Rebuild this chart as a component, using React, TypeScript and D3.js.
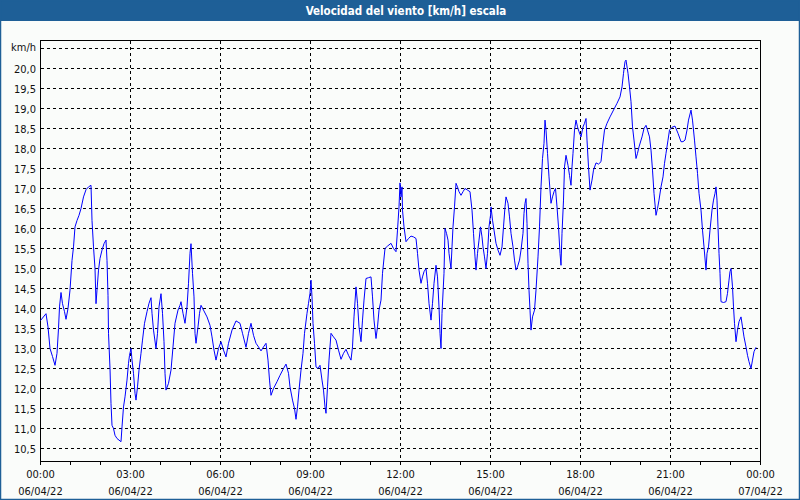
import React, { useEffect, useRef } from 'react';
import * as d3 from 'd3';

// minutes after 06/04/22 00:00
const sampleMinutes = [
  0, 11, 15, 19, 24, 29, 33, 36, 38, 41, 44, 48, 51, 55, 59, 63, 66, 69, 73, 77, 81, 86, 91, 96, 101, 103, 106, 109, 111, 113,
  116, 119, 123, 127, 131, 133, 135, 136, 139, 141, 143, 146, 149, 153, 161, 163, 166, 169, 173, 176, 178, 181, 183, 186, 189, 191,
  194, 197, 201, 204, 208, 213, 217, 221, 223, 226, 231, 234, 237, 241, 244, 247, 249, 251, 256, 261, 265, 269, 275, 279, 281, 285,
  289, 293, 296, 299, 301, 304, 307, 309, 311, 315, 318, 321, 326, 333, 339, 343, 347, 351, 356, 361,
  366, 371, 376, 383, 391, 399, 404, 411, 416, 421, 426, 431, 436, 441, 446, 451, 455, 458, 461, 466, 473, 479, 486, 491, 496, 499,
  504, 508, 511, 514, 517, 521, 525, 528, 533, 536, 539, 541, 543, 545, 548, 551, 555, 559, 563, 566, 569, 571, 574, 577, 581, 586,
  591, 596, 601, 606, 611, 616, 621, 624, 627, 631, 634, 637, 641, 644, 647, 651, 656, 661, 664, 667, 671, 674, 677, 681, 684, 689,
  694, 701, 706, 711, 714, 717, 719,
  721, 723, 724, 727, 731, 736, 741, 746, 751, 754, 757, 761, 764, 767, 771, 774, 777, 781, 784, 787, 791, 794, 797, 799, 801, 803,
  807, 809, 812, 815, 817, 821, 823, 825, 828, 831, 834, 837, 841, 845, 849, 854, 859, 863, 866, 869, 871, 874, 877, 880, 883, 885,
  888, 891, 894, 897, 900, 901, 904, 907, 911, 915, 919, 923, 926, 929, 931, 935, 938, 941, 945, 948, 951, 954, 958, 961, 965, 967,
  969, 971, 973, 975, 977, 979, 981, 984, 988, 991, 995, 998, 1001, 1004, 1007, 1009, 1011, 1014, 1017, 1021, 1024, 1027, 1030, 1033,
  1036, 1039, 1041, 1043, 1046, 1048, 1051, 1055, 1058, 1061, 1063, 1065, 1068, 1071, 1074, 1077,
  1081, 1085, 1088, 1091, 1093, 1096, 1099, 1103, 1106, 1111, 1116, 1121, 1124, 1128, 1133, 1139, 1146, 1153, 1159, 1163, 1166, 1169,
  1171, 1175, 1178, 1181, 1184, 1187, 1191, 1194, 1197, 1203, 1207, 1211, 1214, 1218, 1221, 1224, 1227, 1231, 1234, 1237, 1241, 1245,
  1248, 1251, 1255, 1258, 1263, 1269, 1275, 1281, 1285, 1289, 1293, 1296, 1301, 1304, 1308, 1311, 1314, 1317, 1321, 1324, 1327, 1331,
  1333, 1336, 1339, 1343, 1346, 1349, 1351, 1353, 1355, 1357, 1359, 1361, 1366, 1371, 1374, 1377, 1379, 1381, 1384, 1386, 1388, 1391,
  1394, 1397, 1401, 1404, 1407, 1411, 1414, 1417, 1421, 1424, 1427, 1431,
];

// km/h
const windSpeed = [
  13.7, 13.87, 13.54, 13.0, 12.8, 12.58, 12.88, 13.5, 14.04, 14.4, 14.12, 13.92, 13.73, 14.0, 14.46, 15.2, 15.54, 16.04, 16.2, 16.33, 16.5, 16.79, 16.97, 17.04, 17.08, 16.2, 15.54, 15.0, 14.12, 14.46,
  14.96, 15.25, 15.46, 15.62, 15.71, 15.2, 14.33, 13.38, 12.5, 11.62, 11.08, 11.0, 10.83, 10.75, 10.67, 11.04, 11.54, 11.79, 12.21, 12.63, 12.83, 13.0, 12.71, 12.38, 11.88, 11.71,
  12.04, 12.46, 12.88, 13.21, 13.63, 13.92, 14.13, 14.27, 13.88, 13.46, 13.0, 13.38, 14.04, 14.37, 13.88, 13.17, 12.38, 11.96, 12.13, 12.46, 13.04, 13.63, 13.96, 14.08, 14.17, 13.88,
  13.63, 14.04, 14.63, 15.38, 15.62, 14.88, 14.29, 13.38, 13.13, 13.54, 13.88, 14.08, 13.96, 13.79, 13.58, 13.29, 12.96, 12.71, 13.0, 13.17,
  12.96, 12.79, 13.13, 13.46, 13.69, 13.63, 13.38, 13.03, 13.38, 13.63, 13.33, 13.13, 13.04, 12.94, 13.04, 13.13, 12.71, 12.21, 11.83, 12.0, 12.17, 12.33, 12.5, 12.61, 12.38, 12.04,
  11.71, 11.5, 11.23, 11.54, 11.96, 12.46, 12.88, 13.38, 13.88, 14.13, 14.38, 14.71, 14.29, 13.63, 13.13, 12.54, 12.5, 12.58, 12.21, 11.96, 11.54, 11.38, 12.04, 12.71, 13.38, 13.29,
  13.21, 12.96, 12.73, 12.88, 12.98, 12.83, 12.71, 13.04, 13.79, 14.54, 14.13, 13.54, 13.17, 13.71, 14.21, 14.75, 14.77, 14.79, 14.29, 13.71, 13.25, 13.54, 13.96, 14.21, 14.88, 15.5,
  15.56, 15.63, 15.5, 15.42, 15.96, 16.54, 17.14,
  16.79, 17.04, 16.46, 16.04, 15.67, 15.75, 15.81, 15.79, 15.75, 15.38, 14.96, 14.63, 14.79, 14.92, 15.0, 14.63, 14.13, 13.71, 14.13, 14.63, 15.08, 14.79, 14.04, 13.38, 13.0, 13.88,
  14.88, 16.0, 15.88, 15.71, 15.38, 15.0, 15.54, 16.04, 16.54, 17.13, 17.04, 16.92, 16.83, 16.92, 17.0, 16.96, 16.92, 16.46, 15.88, 15.29, 14.96, 15.38, 15.71, 16.04, 15.79, 15.54,
  15.29, 15.0, 15.38, 16.04, 16.33, 16.54, 16.21, 15.96, 15.63, 15.46, 15.33, 15.54, 16.04, 16.54, 16.79, 16.63, 16.29, 15.88, 15.54, 15.21, 14.96, 15.04, 15.21, 15.46, 15.88, 16.38,
  16.63, 16.75, 16.13, 15.13, 14.46, 13.96, 13.46, 13.79, 13.96, 14.46, 15.29, 16.04, 17.04, 17.75, 18.13, 18.71, 18.46, 17.88, 17.29, 16.63, 16.79, 16.92, 17.0, 16.54,
  16.04, 15.38, 15.08, 15.88, 16.71, 17.54, 17.83, 17.58, 17.33, 17.08, 17.54, 17.88, 18.46, 18.71, 18.54, 18.42,
  18.29, 18.54, 18.63, 18.75, 18.21, 17.54, 16.96, 17.21, 17.46, 17.64, 17.61, 17.67, 18.04, 18.46, 18.63, 18.79, 18.96, 19.13, 19.29, 19.54, 19.88, 20.17,
  20.21, 19.88, 19.54, 19.17, 18.54, 18.21, 17.75, 17.88, 18.04, 18.29, 18.5, 18.58, 18.46, 18.29, 17.96, 17.46, 16.88, 16.33, 16.5, 16.71, 17.04, 17.29,
  17.63, 17.88, 18.21, 18.46, 18.53, 18.56, 18.38, 18.17, 18.17, 18.21, 18.46, 18.71, 18.96, 18.71, 18.21, 17.79, 17.38, 16.88, 16.46, 15.96, 15.54, 14.96,
  15.38, 15.54, 15.96, 16.46, 16.71, 16.88, 17.04, 16.71, 16.04, 15.38, 14.88, 14.17, 14.15, 14.17, 14.38, 14.71, 14.92, 15.0, 14.54, 14.04, 13.63, 13.17,
  13.46, 13.67, 13.79, 13.54, 13.29, 13.04, 12.83, 12.67, 12.5, 12.71, 12.92, 13.03,
];

const yTicks = [10.5, 11, 11.5, 12, 12.5, 13, 13.5, 14, 14.5, 15, 15.5, 16, 16.5, 17, 17.5, 18, 18.5, 19, 19.5, 20];
const title = 'Velocidad del viento [km/h] escala';
const unitLabel = 'km/h';

const W = 800;
const H = 500;
const FONT = '"DejaVu Sans Condensed", "DejaVu Sans", sans-serif';

export default function App() {
  const svgRef = useRef<SVGSVGElement>(null);

  useEffect(() => {
    if (!svgRef.current) return;
    const svg = d3.select(svgRef.current);
    svg.selectAll('*').remove();

    const start = new Date(2022, 3, 6, 0, 0);
    const end = new Date(2022, 3, 7, 0, 0);
    const plot = { left: 40.5, right: 760.5, top: 40.5, bottom: 461.5 };

    const x = d3.scaleTime().domain([start, end]).range([plot.left, plot.right]);
    const y = d3.scaleLinear().domain([10.5, 20]).range([448.5, 68.5]);

    const locale = d3.formatLocale({ decimal: ',', thousands: '.', grouping: [3], currency: ['', '€'] });
    const fmtY = locale.format('.1f');

    // window background + title bar
    svg.append('rect').attr('x', 0).attr('y', 0).attr('width', W).attr('height', H).attr('fill', '#fafcfa');
    svg.append('rect').attr('x', 0).attr('y', 0).attr('width', W).attr('height', 21).attr('fill', '#1e5f97');
    svg.append('rect')
      .attr('x', 0.5).attr('y', 0.5).attr('width', W - 1).attr('height', H - 1)
      .attr('fill', 'none').attr('stroke', '#1e5f97').attr('stroke-width', 1.5);

    svg.append('text')
      .attr('x', W / 2 + 6)
      .attr('y', 14.5)
      .attr('text-anchor', 'middle')
      .attr('font-family', FONT)
      .attr('font-size', 11.5)
      .attr('font-weight', 'bold')
      .attr('fill', '#ffffff')
      .text(title);

    const g = svg.append('g').attr('shape-rendering', 'crispEdges');

    // horizontal grid
    const hLines = [...yTicks, 20.5];
    g.selectAll('line.hgrid')
      .data(hLines)
      .enter()
      .append('line')
      .attr('x1', plot.left)
      .attr('x2', plot.right)
      .attr('y1', d => y(d))
      .attr('y2', d => y(d))
      .attr('stroke', '#000')
      .attr('stroke-dasharray', '3,3');

    // vertical grid every 3 hours
    const majorTicks = d3.timeHour.every(3)!.range(start, d3.timeMinute.offset(end, 1));
    g.selectAll('line.vgrid')
      .data(majorTicks.filter(d => +d !== +start && +d !== +end))
      .enter()
      .append('line')
      .attr('x1', d => x(d))
      .attr('x2', d => x(d))
      .attr('y1', plot.top)
      .attr('y2', plot.bottom)
      .attr('stroke', '#000')
      .attr('stroke-dasharray', '3,3');

    // frame
    g.append('rect')
      .attr('x', plot.left)
      .attr('y', plot.top)
      .attr('width', plot.right - plot.left)
      .attr('height', plot.bottom - plot.top)
      .attr('fill', 'none')
      .attr('stroke', '#000');

    // hourly ticks
    const hourTicks = d3.timeHour.every(1)!.range(start, d3.timeMinute.offset(end, 1));
    g.selectAll('line.tick')
      .data(hourTicks)
      .enter()
      .append('line')
      .attr('x1', d => x(d))
      .attr('x2', d => x(d))
      .attr('y1', plot.bottom)
      .attr('y2', plot.bottom + 3)
      .attr('stroke', '#000');

    // y labels
    svg.selectAll('text.ylab')
      .data(yTicks)
      .enter()
      .append('text')
      .attr('x', 36)
      .attr('y', d => y(d))
      .attr('dy', '0.42em')
      .attr('text-anchor', 'end')
      .attr('font-family', FONT)
      .attr('font-size', 11)
      .attr('fill', '#111')
      .text(d => fmtY(d));

    svg.append('text')
      .attr('x', 36)
      .attr('y', y(20.5) - 2)
      .attr('dy', '0.42em')
      .attr('text-anchor', 'end')
      .attr('font-family', FONT)
      .attr('font-size', 11)
      .attr('fill', '#111')
      .text(unitLabel);

    // x labels
    const fmtTime = d3.timeFormat('%H:%M');
    const fmtDate = d3.timeFormat('%d/%m/%y');
    const xl = svg.selectAll('g.xlab')
      .data(majorTicks)
      .enter()
      .append('g')
      .attr('font-family', FONT)
      .attr('font-size', 11)
      .attr('fill', '#111')
      .attr('text-anchor', 'middle');
    xl.append('text').attr('x', d => x(d)).attr('y', 478).text(d => fmtTime(d));
    xl.append('text').attr('x', d => x(d)).attr('y', 495).text(d => fmtDate(d));

    // series
    const points = sampleMinutes.map((m, i) => ({ t: d3.timeMinute.offset(start, m), v: windSpeed[i] }));
    const line = d3.line<{ t: Date; v: number }>()
      .x(d => x(d.t))
      .y(d => y(d.v));

    svg.append('path')
      .datum(points)
      .attr('d', line)
      .attr('fill', 'none')
      .attr('stroke', '#0000ff')
      .attr('stroke-width', 1);
  }, []);

  return (
    <div style={{ position: 'absolute', left: 0, top: 0 }}>
      <svg ref={svgRef} width={W} height={H} style={{ display: 'block' }} />
    </div>
  );
}
